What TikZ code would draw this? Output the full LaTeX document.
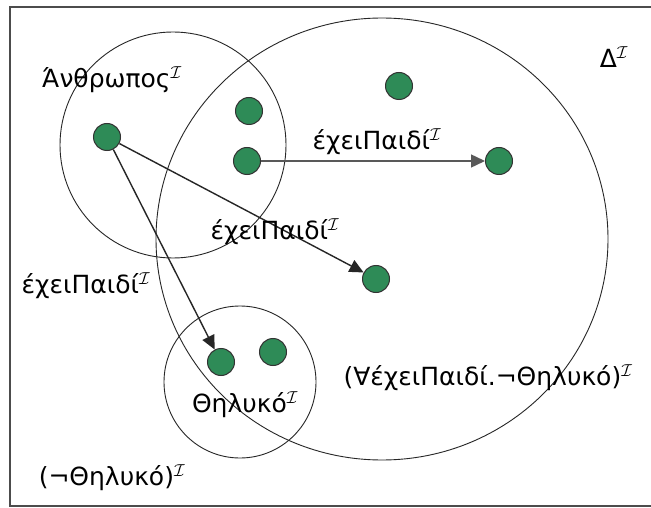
\documentclass[tikz,border=0pt]{standalone}
\usepackage{fontspec}
\setmainfont{DejaVu Sans}
\usetikzlibrary{arrows.meta,shapes.geometric}

\definecolor{elemgreen}{RGB}{46,139,87}

\tikzset{
  elem/.style={circle, draw=black!80, line width=1pt, fill=elemgreen, minimum size=27pt, inner sep=0pt},
  setline/.style={draw=black!85, line width=0.9pt},
  rel/.style={line width=1.4pt, draw=black!85, -{Triangle[length=14pt,width=13pt]}},
  lbl/.style={font=\fontsize{25}{29}\selectfont, inner sep=0pt}
}

\begin{document}
\begin{tikzpicture}[x=1pt,y=-1pt]

	\clip (0,0) rectangle (651,508);
	\fill[white] (0,0) rectangle (651,508);

	% Frame
	\draw[line width=1.8pt, black!70] (10,7) rectangle (680,506);

	% Sets
	\node[circle, setline, minimum size=226pt, inner sep=0pt]
	(anthropos) at (173,145) {};

	\node[ellipse, setline, minimum width=452pt, minimum height=442pt, inner sep=0pt]
	(domain) at (382,239) {};

	\node[circle, setline, minimum size=152pt, inner sep=0pt]
	(thilyko) at (240,382) {};

	% Elements
	\node[elem] (a) at (107,137) {};
	\node[elem] (b) at (249,111) {};
	\node[elem] (c) at (247,161) {};
	\node[elem] (d) at (399,86) {};
	\node[elem] (e) at (499,161) {};
	\node[elem] (f) at (376,279) {};
	\node[elem] (g) at (221,362) {};
	\node[elem] (h) at (273,352) {};

	% Relations
	\draw[rel, black!65] (c) -- (e);
	\draw[rel] (a) -- (f);
	\draw[rel] (a) -- (g);

	% Labels
	\node[lbl] (lblAnthropos) at (112,80) {Άνθρωπος$^{\mathcal{I}}$};
	\node[lbl] (lblDomain) at (614,57) {Δ$^{\mathcal{I}}$};
	\node[lbl] (lblRel1) at (377,142) {έχειΠαιδί$^{\mathcal{I}}$};
	\node[lbl] (lblRel2) at (275,232) {έχειΠαιδί$^{\mathcal{I}}$};
	\node[lbl] (lblRel3) at (86,286) {έχειΠαιδί$^{\mathcal{I}}$};
	\node[lbl] (lblThilyko) at (245,405) {Θηλυκό$^{\mathcal{I}}$};
	\node[lbl] (lblNot) at (112,478) {(¬Θηλυκό)$^{\mathcal{I}}$};
	\node[lbl] (lblAll) at (488,378) {(∀έχειΠαιδί.¬Θηλυκό)$^{\mathcal{I}}$};

\end{tikzpicture}
\end{document}
